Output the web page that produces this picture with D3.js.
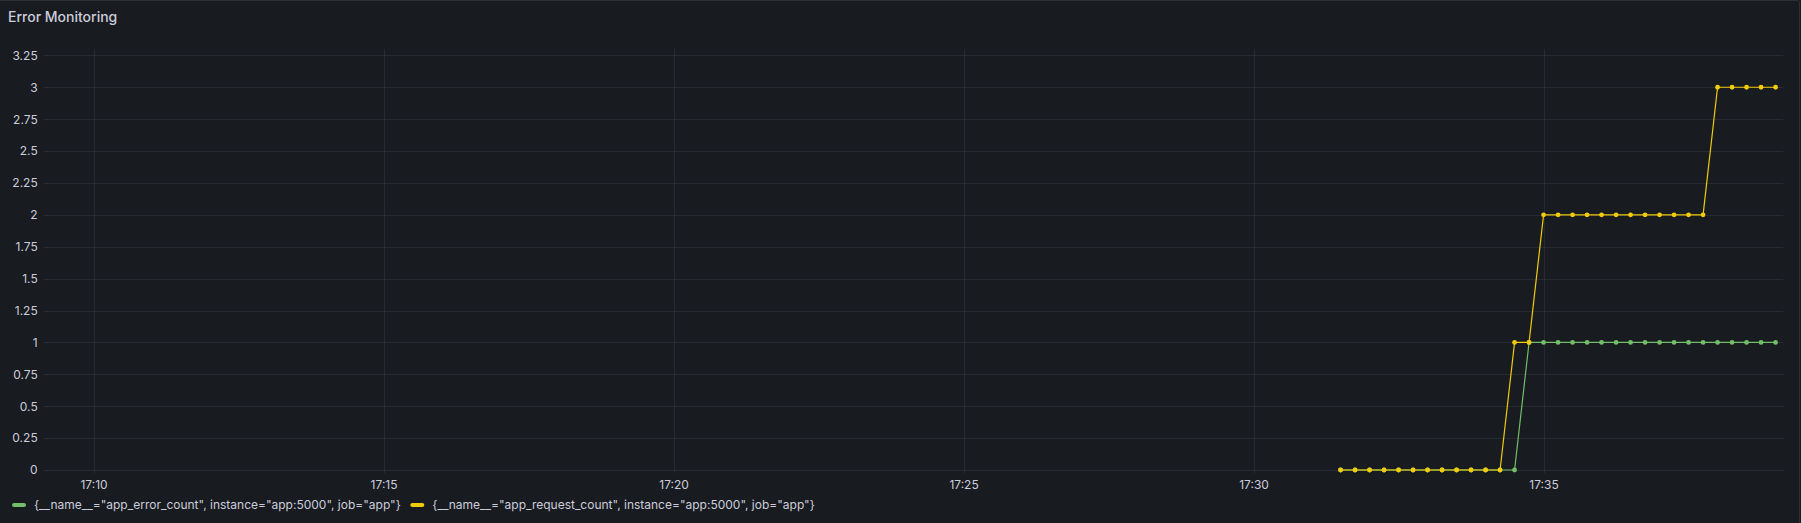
<!DOCTYPE html>
<html>
<head>
<meta charset="utf-8">
<script src="https://cdn.jsdelivr.net/npm/d3@7"></script>
<style>
  html, body { margin: 0; padding: 0; background: #181b1f; }
  svg { display: block; }
  text { font-family: Inter, "Noto Sans", sans-serif; }
</style>
</head>
<body>
<svg id="chart" width="1801" height="523"></svg>
<script>
// ---- data ----
const title = "Error Monitoring";
const times = [
  "17:31:30","17:31:45","17:32:00","17:32:15","17:32:30","17:32:45","17:33:00","17:33:15",
  "17:33:30","17:33:45","17:34:00","17:34:15","17:34:30","17:34:45","17:35:00","17:35:15",
  "17:35:30","17:35:45","17:36:00","17:36:15","17:36:30","17:36:45","17:37:00","17:37:15",
  "17:37:30","17:37:45","17:38:00","17:38:15","17:38:30","17:38:45","17:39:00"
];
const errorCount = [0,0,0,0,0,0,0,0,0,0,0,0,0,1,1,1,1,1,1,1,1,1,1,1,1,1,1,1,1,1,1];
const requestCount = [0,0,0,0,0,0,0,0,0,0,0,0,1,1,2,2,2,2,2,2,2,2,2,2,2,2,3,3,3,3,3];
const seriesNames = [
  '{__name__="app_error_count", instance="app:5000", job="app"}',
  '{__name__="app_request_count", instance="app:5000", job="app"}'
];
const seriesColors = ["#73BF69", "#F2CC0C"];
const xTickLabels = ["17:10","17:15","17:20","17:25","17:30","17:35"];
const yTicks = [0,0.25,0.5,0.75,1,1.25,1.5,1.75,2,2.25,2.5,2.75,3,3.25];
const timeStart = "17:09:08";
const timeEnd = "17:39:08";
const yMax = 3.3;

// ---- helpers ----
const parseT = s => {
  const p = s.split(":").map(Number);
  return new Date(2024, 0, 1, p[0], p[1], p[2] || 0);
};

const svg = d3.select("#chart");
const W = 1801, H = 523;
const textColor = "#ccccdc";
const gridColor = "rgba(204,204,220,0.09)";

// panel (cropped on left and bottom)
svg.append("rect").attr("x", -10).attr("y", 0.5).attr("width", 1809.5).attr("height", H + 20)
  .attr("rx", 2).attr("fill", "#181b1f").attr("stroke", "rgba(204,204,220,0.12)");

svg.append("text").attr("x", 8).attr("y", 21.5).attr("fill", textColor)
  .attr("font-size", 14).attr("font-weight", 500).text(title);

const plot = { left: 43.3, right: 1783.3, top: 49, bottom: 470 };

const x = d3.scaleTime().domain([parseT(timeStart), parseT(timeEnd)]).range([plot.left, plot.right]);
const y = d3.scaleLinear().domain([0, yMax]).range([plot.bottom, plot.top]);

// horizontal grid + y axis
const yAxis = d3.axisLeft(y).tickValues(yTicks).tickSize(0).tickPadding(0).tickFormat(d3.format("~g"));
const yg = svg.append("g").attr("transform", `translate(${37.7},0)`).call(yAxis);
yg.select(".domain").remove();
yg.selectAll("text").attr("fill", textColor).attr("font-size", 12).attr("font-family", "Inter, sans-serif").attr("x", 0);

svg.append("g").selectAll("line").data(yTicks).join("line")
  .attr("x1", plot.left).attr("x2", plot.right)
  .attr("y1", d => Math.round(y(d)) + 0.5).attr("y2", d => Math.round(y(d)) + 0.5)
  .attr("stroke", gridColor).attr("stroke-width", 1);

// vertical grid + x axis
const xTickDates = xTickLabels.map(parseT);
svg.append("g").selectAll("line").data(xTickDates).join("line")
  .attr("x1", d => Math.round(x(d)) + 0.5).attr("x2", d => Math.round(x(d)) + 0.5)
  .attr("y1", plot.top).attr("y2", plot.bottom + 3)
  .attr("stroke", gridColor).attr("stroke-width", 1);

const xAxis = d3.axisBottom(x).tickValues(xTickDates).tickSize(0).tickPadding(0).tickFormat(d3.timeFormat("%H:%M"));
const xg = svg.append("g").attr("transform", `translate(0,${480})`).call(xAxis);
xg.select(".domain").remove();
xg.selectAll("text").attr("fill", textColor).attr("font-size", 12).attr("font-family", "Inter, sans-serif").attr("dy", "0.71em");

// series
const tDates = times.map(parseT);
const allSeries = [errorCount, requestCount];
const line = d3.line().x(d => x(d[0])).y(d => y(d[1]));
allSeries.forEach((vals, i) => {
  const pts = tDates.map((t, j) => [t, vals[j]]);
  const g = svg.append("g");
  g.append("path").datum(pts).attr("d", line).attr("fill", "none")
    .attr("stroke", seriesColors[i]).attr("stroke-width", 1.2);
  g.selectAll("circle").data(pts).join("circle")
    .attr("cx", d => x(d[0])).attr("cy", d => y(d[1])).attr("r", 2.4)
    .attr("fill", seriesColors[i]);
});

// legend
const leg = svg.append("g").attr("transform", "translate(12,505)");
let lx = 0;
seriesNames.forEach((name, i) => {
  const item = leg.append("g").attr("transform", `translate(${lx},0)`);
  item.append("rect").attr("x", 0).attr("y", -2).attr("width", 14).attr("height", 4).attr("rx", 2)
    .attr("fill", seriesColors[i]);
  const t = item.append("text").attr("x", 22).attr("y", 0).attr("dy", "0.35em")
    .attr("fill", textColor).attr("font-size", 12).text(name);
  lx += 22 + t.node().getComputedTextLength() + 9.5;
});
</script>
</body>
</html>
